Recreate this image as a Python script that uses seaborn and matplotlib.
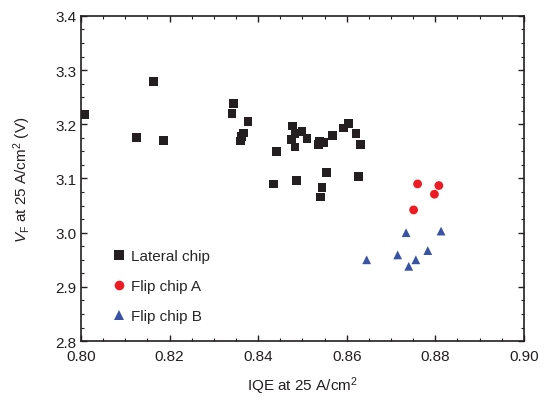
import matplotlib
matplotlib.use("Agg")
import matplotlib.pyplot as plt
import seaborn as sns
import pandas as pd
from matplotlib.ticker import MultipleLocator

lateral_iqe = [0.8008, 0.8163, 0.8126, 0.8187, 0.8344, 0.8341, 0.8377, 0.8366, 0.8363, 0.8360,
               0.8477, 0.8483, 0.8499, 0.8476, 0.8510, 0.8483, 0.8442, 0.8539, 0.8547, 0.8536,
               0.8567, 0.8593, 0.8604, 0.8621, 0.8631, 0.8554, 0.8627, 0.8435, 0.8487, 0.8544,
               0.8540]
lateral_vf = [3.218, 3.279, 3.175, 3.170, 3.238, 3.220, 3.205, 3.184, 3.178, 3.169,
              3.197, 3.183, 3.186, 3.172, 3.174, 3.158, 3.150, 3.169, 3.166, 3.162,
              3.179, 3.193, 3.202, 3.183, 3.163, 3.111, 3.104, 3.090, 3.096, 3.084,
              3.066]
flipA_iqe = [0.8760, 0.8808, 0.8798, 0.8751]
flipA_vf = [3.090, 3.087, 3.071, 3.042]
flipB_iqe = [0.8734, 0.8813, 0.8645, 0.8715, 0.8756, 0.8783, 0.8740]
flipB_vf = [3.000, 3.003, 2.950, 2.959, 2.950, 2.967, 2.938]

groups = ["Lateral chip", "Flip chip A", "Flip chip B"]
colors = ["#231f20", "#ed1c24", "#3953a4"]
markers = ["s", "o", "^"]
x_ticks = [0.80, 0.82, 0.84, 0.86, 0.88, 0.90]
y_ticks = [2.8, 2.9, 3.0, 3.1, 3.2, 3.3, 3.4]

df = pd.concat([
    pd.DataFrame({"IQE": lateral_iqe, "VF": lateral_vf, "Chip": groups[0]}),
    pd.DataFrame({"IQE": flipA_iqe, "VF": flipA_vf, "Chip": groups[1]}),
    pd.DataFrame({"IQE": flipB_iqe, "VF": flipB_vf, "Chip": groups[2]}),
])

sns.set_style("ticks")
plt.rcParams["font.family"] = ["Liberation Sans", "DejaVu Sans"]
plt.rcParams["mathtext.fontset"] = "custom"
plt.rcParams["mathtext.rm"] = "Liberation Sans"
plt.rcParams["mathtext.it"] = "Liberation Sans:italic"

fig = plt.figure(figsize=(5.44, 4.02), dpi=100)
ax = fig.add_axes([0.149, 0.149, 0.814, 0.809])

sns.scatterplot(data=df, x="IQE", y="VF", hue="Chip", style="Chip",
                hue_order=groups, style_order=groups,
                palette=dict(zip(groups, colors)), markers=dict(zip(groups, markers)),
                s=40, edgecolor="none", linewidth=0, ax=ax, legend=True)

ax.set_xlim(0.80, 0.90)
ax.set_ylim(2.8, 3.4)
ax.set_xticks(x_ticks)
ax.set_xticklabels([f"{v:.2f}" for v in x_ticks])
ax.set_yticks(y_ticks)
ax.set_yticklabels([f"{v:.1f}" for v in y_ticks])
ax.xaxis.set_minor_locator(MultipleLocator(0.005))
ax.yaxis.set_minor_locator(MultipleLocator(0.025))
ax.tick_params(which="both", direction="in", top=True, right=True, labelsize=11,
               color="#231f20", labelcolor="#231f20")
ax.tick_params(axis="x", which="major", pad=6)
ax.tick_params(which="major", length=4, width=1)
ax.tick_params(which="minor", length=2.5, width=0.8)
for sp in ax.spines.values():
    sp.set_visible(True)
    sp.set_linewidth(1.2)
    sp.set_color("#231f20")

ax.set_xlabel("IQE at 25 A/cm$^2$", fontsize=11, labelpad=8, color="#231f20")
ax.set_ylabel("$V_\\mathrm{F}$ at 25 A/cm$^2$ (V)", fontsize=11, labelpad=16, color="#231f20")

leg = ax.legend(loc="lower left", bbox_to_anchor=(0.054, 0.037), borderaxespad=0,
                frameon=False, fontsize=11, handlelength=1.0, handletextpad=0.3,
                labelspacing=1.05, markerscale=1.1)

fig.savefig("out.png", dpi=100)
